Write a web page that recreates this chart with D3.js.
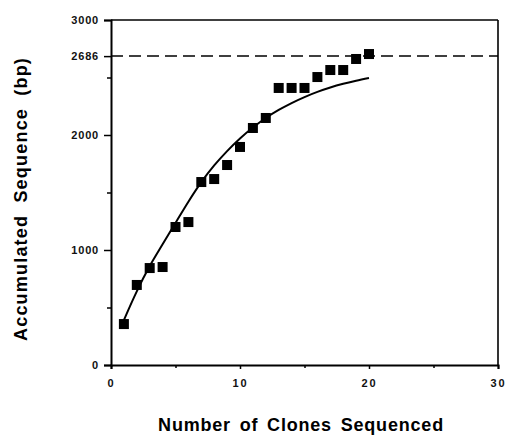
<!DOCTYPE html>
<html><head><meta charset="utf-8">
<script src="https://cdn.jsdelivr.net/npm/d3@7"></script>
<style>body{margin:0;background:#fff}svg{display:block}</style>
</head><body>
<script>
const clones = [1,2,3,4,5,6,7,8,9,10,11,12,13,14,15,16,17,18,19,20];
const accumulated = [356,696,843,852,1200,1243,1591,1617,1739,1896,2061,2148,2409,2409,2409,2504,2565,2565,2661,2704];
const curveX = [1,2,3,4,5,6,7,8,9,10,11,12,13,14,15,16,17,18,19,20];
const curveY = [391,640,860,1050,1235,1420,1590,1735,1860,1970,2065,2148,2218,2278,2330,2375,2413,2445,2472,2496];
const totalLength = 2686;
const xTicks = [0,10,20,30];
const xMinor = [5,15,25];
const yTicks = [0,1000,2000,2686,3000];
const yMinor = [500,1500,2500];

const W=505,H=436;
const svg=d3.select("body").append("svg").attr("width",W).attr("height",H);
const x=d3.scaleLinear().domain([0,30]).range([111,498]);
const y=d3.scaleLinear().domain([0,3000]).range([365,20]);
const font="Liberation Sans, Arial, sans-serif";

// frame
svg.append("line").attr("x1",x(0)).attr("x2",x(30)).attr("y1",y(3000)).attr("y2",y(3000)).attr("stroke","#000").attr("stroke-width",1.6);
svg.append("line").attr("x1",x(30)).attr("x2",x(30)).attr("y1",y(3000)).attr("y2",y(0)).attr("stroke","#000").attr("stroke-width",1.6);

const yAxis=d3.axisLeft(y).tickValues(yTicks).tickSize(7).tickPadding(5).tickFormat(d3.format("d"));
const gy=svg.append("g").attr("transform",`translate(${x(0)},0)`).call(yAxis);
gy.select(".domain").attr("stroke-width",2);
gy.selectAll(".tick line").attr("stroke-width",1.5);
gy.selectAll("text").attr("font-family",font).attr("font-size",11).attr("font-weight","bold").attr("letter-spacing",0.8).attr("fill","#111");
const gym=svg.append("g").attr("transform",`translate(${x(0)},0)`).call(d3.axisLeft(y).tickValues(yMinor).tickSize(4).tickFormat(""));
gym.select(".domain").remove();
gym.selectAll(".tick line").attr("stroke-width",1.5);

const xAxis=d3.axisBottom(x).tickValues(xTicks).tickSize(4).tickPadding(10).tickFormat(d3.format("d"));
const gx=svg.append("g").attr("transform",`translate(0,${y(0)})`).call(xAxis);
gx.select(".domain").attr("stroke-width",2);
gx.selectAll(".tick line").attr("stroke-width",1.5);
gx.selectAll("text").attr("font-family",font).attr("font-size",11).attr("font-weight","bold").attr("letter-spacing",2).attr("fill","#111");
const gxm=svg.append("g").attr("transform",`translate(0,${y(0)})`).call(d3.axisBottom(x).tickValues(xMinor).tickSize(3).tickFormat(""));
gxm.select(".domain").remove();
gxm.selectAll(".tick line").attr("stroke-width",1.5);

// dashed total length line
svg.append("line").attr("x1",x(0)).attr("x2",x(30)).attr("y1",y(totalLength)).attr("y2",y(totalLength))
  .attr("stroke","#000").attr("stroke-width",1.5).attr("stroke-dasharray","12,6");

// fitted curve
const line=d3.line().x((d,i)=>x(curveX[i])).y(d=>y(d)).curve(d3.curveMonotoneX);
svg.append("path").attr("d",line(curveY)).attr("fill","none").attr("stroke","#000").attr("stroke-width",2);

// points
const s=10;
svg.append("g").selectAll("rect").data(accumulated).join("rect")
  .attr("x",(d,i)=>x(clones[i])-s/2).attr("y",d=>y(d)-s/2).attr("width",s).attr("height",s).attr("fill","#000");

// titles
svg.append("text").attr("x",301).attr("y",431).attr("text-anchor","middle").attr("font-family",font)
  .attr("font-size",18).attr("font-weight","bold").attr("letter-spacing",0.8).attr("word-spacing",3).text("Number of Clones Sequenced");
svg.append("text").attr("transform","translate(27,199) rotate(-90)").attr("text-anchor","middle").attr("font-family",font)
  .attr("font-size",18).attr("font-weight","bold").attr("letter-spacing",1.2).attr("word-spacing",6).text("Accumulated Sequence (bp)");
</script>
</body></html>
